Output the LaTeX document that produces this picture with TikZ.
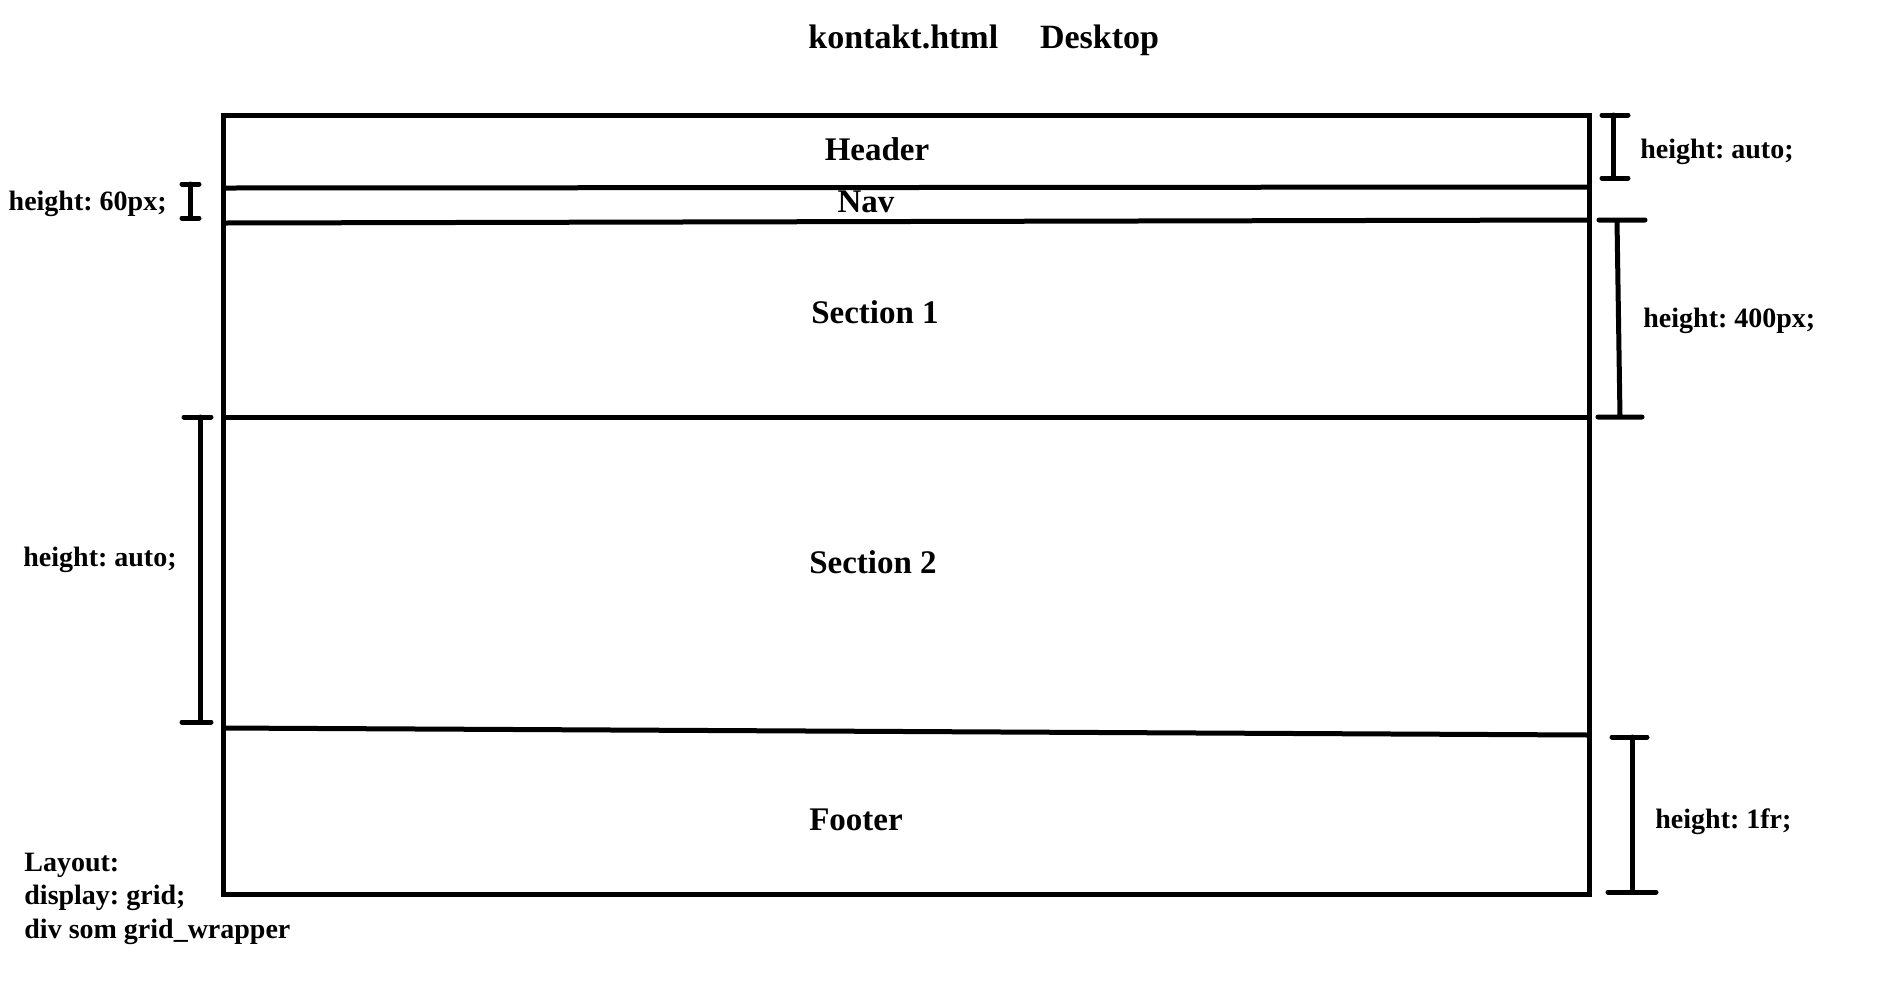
\documentclass[tikz,border=0pt]{standalone}
\usepackage{fontspec}
\setmainfont{Liberation Serif}
\usetikzlibrary{positioning}
\frenchspacing

\begin{document}
\begin{tikzpicture}[x=0.5pt, y=-0.5pt,
    wall/.style={line width=2.5pt, line join=miter},
    ibeam/.style={line width=2.5pt, line cap=round},
    title/.style={inner sep=0pt, font=\fontsize{17}{20}\selectfont\bfseries},
    part/.style={inner sep=0pt, anchor=base, font=\fontsize{16.5}{20}\selectfont\bfseries},
    note/.style={inner sep=0pt, anchor=base west, font=\fontsize{14}{17}\selectfont\bfseries},
    layout/.style={inner sep=0pt, anchor=base west, font=\fontsize{14}{17}\selectfont\bfseries}]
    \useasboundingbox (0,0) rectangle (1886,982);
    \def\xl{223}; \def\xr{1589}; \def\yt{115}; \def\yb{894}

    \node[title, anchor=base west] (file) at (808,48) {kontakt.html};
    \node[title, base right=20.5pt of file] (device) {Desktop};

    % grid wrapper
    \coordinate (nw) at (\xl,\yt);
    \coordinate (se) at (\xr,\yb);
    \draw[wall] (nw) rectangle (se);
    \foreach \name/\ya/\yc in {hn/188/187, ns/223/220, ss/417/417, sf/728/735} {
        \coordinate (\name w) at (\xl,\ya);
        \coordinate (\name e) at (\xr,\yc);
        \draw[wall] (\name w) -- (\name e);
    }

    \node[part] (header) at (877,160) {Header};
    \node[part] (nav) at (866,212) {Nav};
    \node[part] (sec1) at (875,323) {Section 1};
    \node[part] (sec2) at (873,573) {Section 2};
    \node[part] (footer) at (856,830) {Footer};

    % heights
    \draw[ibeam] (1602,115) -- (1628,115) (1613,115) -- (1613,178) (1602,178) -- (1628,178);
    \draw[ibeam] (1599,220) -- (1645,220) (1617,220) -- (1620,417) (1598,417) -- (1642,417);
    \draw[ibeam] (1612,737) -- (1647,737) (1632,737) -- (1632,892) (1608,892) -- (1656,892);
    \draw[ibeam] (182,184) -- (199,184) (190,184) -- (190,218) (182,218) -- (199,218);
    \draw[ibeam] (184,417) -- (211,417) (200,417) -- (200,722) (182,722) -- (211,722);

    \node[note] (hauto) at (1640,158) {height: auto;};
    \node[note] (h400) at (1643,327) {height: 400px;};
    \node[note] (h1fr) at (1655,828) {height: 1fr;};
    \node[note, anchor=base east] (h60) at (167,210) {height: 60px;};
    \node[note] (sauto) at (23,566) {height: auto;};

    \foreach \txt [count=\i] in {Layout:, display: grid;, div som grid\_wrapper}
        \node[layout] (layout\i) at (24,837.5+33.5*\i) {\txt};
\end{tikzpicture}
\end{document}
